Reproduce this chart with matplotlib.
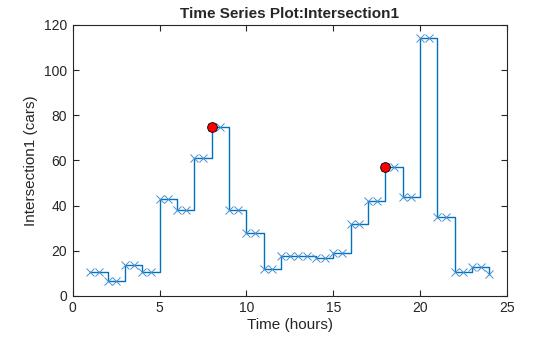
import numpy as np
import matplotlib
matplotlib.use("Agg")
import matplotlib.pyplot as plt

# half-hour samples from 1 h to 24 h, zero-order hold between them
TIMES = np.arange(1.0, 24.5, 0.5)
CARS = [
    10.5, 10.5, 6.7, 6.7, 13.7, 13.7, 10.5, 10.5, 42.8, 42.8,
    38.1, 38.1, 61.0, 61.0, 74.8, 74.8, 38.1, 38.1, 27.9, 27.9,
    12.1, 12.1, 17.7, 17.7, 17.7, 17.7, 16.7, 16.7, 18.9, 18.9,
    31.7, 31.7, 41.9, 41.9, 57.1, 57.1, 43.8, 43.8, 114.3, 114.3,
    35.0, 35.0, 10.6, 10.6, 12.8, 12.8, 9.7,
]

PEAK_TIMES = [8, 18]
PEAK_CARS = [74.8, 57.1]

LINE_COLOR = "#0072BD"
AXIS_COLOR = "#262626"

plt.rcParams.update(
    {
        "font.family": ["Liberation Sans", "DejaVu Sans"],
        "xtick.direction": "in",
        "ytick.direction": "in",
        "xtick.top": True,
        "ytick.right": True,
        "xtick.color": AXIS_COLOR,
        "ytick.color": AXIS_COLOR,
        "xtick.labelsize": 10,
        "ytick.labelsize": 10,
        "axes.edgecolor": AXIS_COLOR,
        "axes.linewidth": 0.8,
    }
)

fig = plt.figure(figsize=(5.6, 3.37), dpi=100)
ax = fig.add_axes([0.130, 0.122, 0.775, 0.804])

ax.step(TIMES, CARS, where="post", color=LINE_COLOR, linewidth=1.0, zorder=2)
ax.plot(TIMES, CARS, linestyle="none", marker="x", markersize=5.5,
        markeredgewidth=0.7, color="#4A90D0", zorder=3)
ax.plot(PEAK_TIMES, PEAK_CARS, linestyle="none", marker="o", markersize=7,
        markerfacecolor="#FF0000", markeredgecolor="black",
        markeredgewidth=0.6, zorder=4)

ax.set_xlim(0, 25)
ax.set_ylim(0, 120)
ax.set_xticks([0, 5, 10, 15, 20, 25])
ax.set_yticks([0, 20, 40, 60, 80, 100, 120])
ax.tick_params(length=4, width=0.8, pad=4)

ax.set_xlabel("Time (hours)", fontsize=11, color=AXIS_COLOR, labelpad=2)
ax.set_ylabel("Intersection1 (cars)", fontsize=11, color=AXIS_COLOR, labelpad=4)
ax.set_title("Time Series Plot:Intersection1", fontsize=11, fontweight="bold",
             color=AXIS_COLOR, pad=5)

fig.savefig("out.png", dpi=100, facecolor="white")
